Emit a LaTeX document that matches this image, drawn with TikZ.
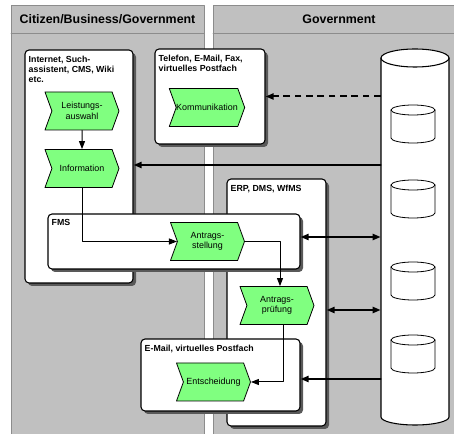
\documentclass[tikz,border=0pt]{standalone}
\usepackage{fontspec}
\setmainfont{Liberation Sans}
\usepackage{tikz}
\usetikzlibrary{arrows.meta,shapes.symbols,shadows,fit}

\definecolor{lanegray}{HTML}{C0C0C0}
\definecolor{laneline}{HTML}{8C8C8C}
\definecolor{procgreen}{HTML}{80FF80}

\begin{document}
\begin{tikzpicture}[line cap=round,line join=round,>={Triangle[length=6pt,width=4.5pt]},x=0.75pt,y=-0.75pt,
  lane/.style={fill=lanegray,draw=laneline,line width=0.6pt},
  sysbox/.style={draw,fill=white,rounded corners=3pt,line width=0.8pt,inner sep=0pt,
    drop shadow={shadow xshift=2.25pt,shadow yshift=-2.25pt,fill=black!65,opacity=1}},
  boxtitle/.style={anchor=north west,inner sep=0pt,align=left,
    font=\fontsize{6.6}{7.6}\selectfont\bfseries,xshift=3pt,yshift=-4.5pt},
  proc/.style={signal,signal to=east,signal from=west,signal pointer angle=140,draw,
    fill=procgreen,line width=0.6pt,minimum width=55.5pt,minimum height=28.5pt,
    inner sep=0pt,align=center,font=\fontsize{6.7}{8}\selectfont},
  header/.style={font=\fontsize{9.3}{11}\selectfont\bfseries},
  flow/.style={->,line width=0.75pt},
  link/.style={line width=1.5pt}]
  \useasboundingbox (0,0) rectangle (454,434);
  \draw[lane] (11,5) rectangle (204,440);
  \draw[lane] (213,5) rectangle (465,440);
  \draw[laneline,line width=0.6pt] (11,33) -- (204,33);
  \draw[laneline,line width=0.6pt] (213,33) -- (465,33);
  \node[header] (hcitizen) at (107.5,19) {Citizen/Business/Government};
  \node[header] (hgov) at (339,19) {Government};

  \node[sysbox,fit={(25,50) (133,283)}] (web) {};
  \node[boxtitle] (webtitle) at (web.north west) {Internet, Such-\\assistent, CMS, Wiki\\etc.};
  \node[sysbox,fit={(155,49) (265,144)}] (phone) {};
  \node[boxtitle] (phonetitle) at (phone.north west) {Telefon, E-Mail, Fax,\\virtuelles Postfach};
  \node[sysbox,fit={(227,179) (326,426)}] (erp) {};
  \node[boxtitle] (erptitle) at (erp.north west) {ERP, DMS, WfMS};

  \node[fit={(381,49) (449,425)},inner sep=0pt] (db) {};
  \draw[fill=white,line width=0.8pt] (381,58) -- (381,417)
    arc[start angle=180,end angle=360,x radius=25.5pt,y radius=6pt] -- (449,58);
  \draw[fill=white,line width=0.8pt] (415,58) ellipse [x radius=25.5pt,y radius=6.75pt];
  \foreach \dbtop in {110,185,267,340}{
    \draw[fill=white,line width=0.6pt] (391,\dbtop) -- (391,\dbtop+28)
      arc[start angle=180,end angle=360,x radius=16.5pt,y radius=3.75pt] -- (435,\dbtop);
    \draw[line width=0.6pt] (413,\dbtop) ellipse [x radius=16.5pt,y radius=3.75pt];
  }

  \node[sysbox,fit={(48,214) (300,269)}] (fms) {};
  \node[boxtitle] (fmstitle) at (fms.north west) {FMS};
  \node[sysbox,fit={(141,339) (300,411)}] (mail) {};
  \node[boxtitle] (mailtitle) at (mail.north west) {E-Mail, virtuelles Postfach};

  \node[proc] (leist) at (82,111) {Leistungs-\\auswahl};
  \node[proc] (info) at (82,168.5) {Information};
  \node[proc] (komm) at (207,107.5) {Kommunikation};
  \node[proc] (antst) at (207.5,241.5) {Antrags-\\stellung};
  \node[proc] (antpr) at (277,305.5) {Antrags-\\prüfung};
  \node[proc] (entsch) at (213.5,382) {Entscheidung};

  \draw[flow] (leist) -- (info);
  \draw[flow] (info.south) |- (antst.west);
  \draw[flow] (antst.east) -| ([xshift=2.25pt]antpr.north);
  \draw[flow] ([xshift=4.5pt]antpr.south) |- (entsch.east);
  \draw[link,->,dash pattern=on 5pt off 3.5pt,line cap=butt] (db.west |- phone.east) -- (phone.east);
  \draw[link,->] (db.west |- 0,165) -- (web.east |- 0,165);
  \draw[link,<->] (fms.east |- 0,237) -- (db.west |- 0,237);
  \draw[link,<->] (erp.east |- 0,310) -- (db.west |- 0,310);
  \draw[link,->] (db.west |- 0,379) -- (mail.east |- 0,379);
\end{tikzpicture}
\end{document}
